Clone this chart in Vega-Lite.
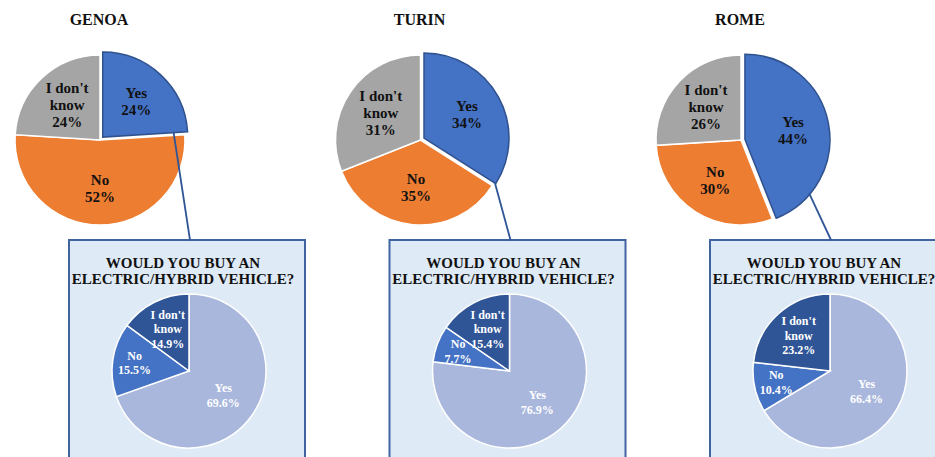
{
  "$schema": "https://vega.github.io/schema/vega-lite/v6.json",
  "width": 935,
  "height": 457,
  "autosize": {"type": "none"},
  "padding": 0,
  "background": "white",
  "config": {"view": {"stroke": null}},
  "data": {
    "values": [
      {"city": "GENOA", "question": "Q1", "answer": "Yes", "percent": 24},
      {"city": "GENOA", "question": "Q1", "answer": "No", "percent": 52},
      {"city": "GENOA", "question": "Q1", "answer": "I don't know", "percent": 24},
      {"city": "TURIN", "question": "Q1", "answer": "Yes", "percent": 34},
      {"city": "TURIN", "question": "Q1", "answer": "No", "percent": 35},
      {"city": "TURIN", "question": "Q1", "answer": "I don't know", "percent": 31},
      {"city": "ROME", "question": "Q1", "answer": "Yes", "percent": 44},
      {"city": "ROME", "question": "Q1", "answer": "No", "percent": 30},
      {"city": "ROME", "question": "Q1", "answer": "I don't know", "percent": 26},
      {"city": "GENOA", "question": "Q2", "answer": "Yes", "percent": 69.6},
      {"city": "GENOA", "question": "Q2", "answer": "No", "percent": 15.5},
      {"city": "GENOA", "question": "Q2", "answer": "I don't know", "percent": 14.9},
      {"city": "TURIN", "question": "Q2", "answer": "Yes", "percent": 76.9},
      {"city": "TURIN", "question": "Q2", "answer": "No", "percent": 7.7},
      {"city": "TURIN", "question": "Q2", "answer": "I don't know", "percent": 15.4},
      {"city": "ROME", "question": "Q2", "answer": "Yes", "percent": 66.4},
      {"city": "ROME", "question": "Q2", "answer": "No", "percent": 10.4},
      {"city": "ROME", "question": "Q2", "answer": "I don't know", "percent": 23.2}
    ]
  },
  "transform": [
    {"stack": "percent", "groupby": ["city", "question"], "sort": [{"field": "answer", "order": "descending"}], "as": ["v0", "v1"], "offset": "normalize"}
  ],
  "resolve": {"scale": {"color": "independent"}},
  "layer": [
    {
      "transform": [{"filter": "datum.question === 'Q2' && datum.answer === 'Yes'"}],
      "mark": {"type": "rect", "fill": "#DEEAF6", "stroke": "#3F64A0", "strokeWidth": 2, "xOffset": -118, "x2Offset": 118, "yOffset": -131, "y2Offset": 130},
      "encoding": {
        "x": {"field": "city", "type": "nominal", "scale": {"type": "point", "domain": ["GENOA", "TURIN", "ROME"], "range": [187, 828], "padding": 0}, "axis": null},
        "x2": {"field": "city"},
        "y": {"field": "question", "type": "nominal", "scale": {"type": "point", "domain": ["Q1", "Q2"], "range": [140, 371], "padding": 0}, "axis": null},
        "y2": {"field": "question"}
      }
    },
    {
      "transform": [{"filter": "datum.question === 'Q1'"}],
      "mark": {
        "type": "arc", "radius": 85, "strokeWidth": 1.5,
        "stroke": {"expr": "datum.answer === 'Yes' ? '#2F528F' : '#ffffff'"},
        "xOffset": {"expr": "-87 + (datum.answer === 'Yes' ? 4*sin(PI*(datum.v0+datum.v1)) : 0)"},
        "yOffset": {"expr": "datum.answer === 'Yes' ? -4*cos(PI*(datum.v0+datum.v1)) : 0"}
      },
      "encoding": {
        "x": {"field": "city", "type": "nominal", "scale": {"type": "point", "domain": ["GENOA", "TURIN", "ROME"], "range": [187, 828], "padding": 0}, "axis": null},
        "y": {"field": "question", "type": "nominal", "scale": {"type": "point", "domain": ["Q1", "Q2"], "range": [140, 371], "padding": 0}, "axis": null},
        "theta": {"field": "v0", "type": "quantitative", "stack": null, "scale": {"domain": [0, 1]}},
        "theta2": {"field": "v1"},
        "color": {"field": "answer", "type": "nominal", "scale": {"domain": ["Yes", "No", "I don't know"], "range": ["#4472C4", "#ED7D31", "#A5A5A5"]}, "legend": null}
      }
    },
    {
      "transform": [{"filter": "datum.question === 'Q1' && datum.answer === 'Yes'"}],
      "mark": {
        "type": "rule", "color": "#2F5597", "strokeWidth": 1.8,
        "xOffset": {"expr": "-87 + 4*sin(PI*datum.v1) + (datum.v1 < 0.3 ? 71 : 84)*sin(min(2*PI*datum.v1, 2.27))"},
        "yOffset": {"expr": "-4*cos(PI*datum.v1) - (datum.v1 < 0.3 ? 71 : 84)*cos(min(2*PI*datum.v1, 2.27))"},
        "x2Offset": 3, "y2Offset": -131
      },
      "encoding": {
        "x": {"field": "city", "type": "nominal", "scale": {"type": "point", "domain": ["GENOA", "TURIN", "ROME"], "range": [187, 828], "padding": 0}, "axis": null},
        "x2": {"field": "city"},
        "y": {"field": "question", "type": "nominal", "scale": {"type": "point", "domain": ["Q1", "Q2"], "range": [140, 371], "padding": 0}, "axis": null},
        "y2": {"datum": "Q2"}
      }
    },
    {
      "transform": [{"filter": "datum.question === 'Q1'"}],
      "mark": {
        "type": "text", "font": "Liberation Serif", "fontWeight": "bold", "fontSize": 15, "lineHeight": 17, "fill": "#111111", "align": "center", "baseline": "middle",
        "xOffset": -87,
        "dy": {"expr": "datum.answer === \"I don't know\" ? -17 : -8.5"},
        "radius": {"expr": "datum.answer === 'Yes' ? 53 : 48"},
        "theta": {"expr": "PI*(datum.v0+datum.v1)"},
        "text": {"expr": "datum.answer === \"I don't know\" ? [\"I don't\", 'know', format(datum.percent, '.0f') + '%'] : [datum.answer, format(datum.percent, '.0f') + '%']"}
      },
      "encoding": {
        "x": {"field": "city", "type": "nominal", "scale": {"type": "point", "domain": ["GENOA", "TURIN", "ROME"], "range": [187, 828], "padding": 0}, "axis": null},
        "y": {"field": "question", "type": "nominal", "scale": {"type": "point", "domain": ["Q1", "Q2"], "range": [140, 371], "padding": 0}, "axis": null}
      }
    },
    {
      "transform": [{"filter": "datum.question === 'Q1' && datum.answer === 'Yes'"}],
      "mark": {"type": "text", "font": "Liberation Serif", "fontWeight": "bold", "fontSize": 16, "fill": "#111111", "align": "center", "baseline": "middle", "xOffset": -88, "yOffset": -120},
      "encoding": {
        "x": {"field": "city", "type": "nominal", "scale": {"type": "point", "domain": ["GENOA", "TURIN", "ROME"], "range": [187, 828], "padding": 0}, "axis": null},
        "y": {"field": "question", "type": "nominal", "scale": {"type": "point", "domain": ["Q1", "Q2"], "range": [140, 371], "padding": 0}, "axis": null},
        "text": {"field": "city"}
      }
    },
    {
      "transform": [{"filter": "datum.question === 'Q2'"}],
      "mark": {"type": "arc", "radius": 77, "stroke": "#ffffff", "strokeWidth": 1.5, "xOffset": 2},
      "encoding": {
        "x": {"field": "city", "type": "nominal", "scale": {"type": "point", "domain": ["GENOA", "TURIN", "ROME"], "range": [187, 828], "padding": 0}, "axis": null},
        "y": {"field": "question", "type": "nominal", "scale": {"type": "point", "domain": ["Q1", "Q2"], "range": [140, 371], "padding": 0}, "axis": null},
        "theta": {"field": "v0", "type": "quantitative", "stack": null, "scale": {"domain": [0, 1]}},
        "theta2": {"field": "v1"},
        "color": {"field": "answer", "type": "nominal", "scale": {"domain": ["Yes", "No", "I don't know"], "range": ["#A9B7DD", "#4472C4", "#2F5597"]}, "legend": null}
      }
    },
    {
      "transform": [{"filter": "datum.question === 'Q2'"}],
      "mark": {
        "type": "text", "font": "Liberation Serif", "fontWeight": "bold", "fontSize": 12, "lineHeight": 14.5, "fill": "#ffffff", "align": "center", "baseline": "middle",
        "xOffset": 2,
        "dy": {"expr": "datum.answer === \"I don't know\" ? -14.5 : -7.25"},
        "radius": {"expr": "datum.answer === 'Yes' ? 42 : datum.answer === 'No' ? 55 : 47"},
        "theta": {"expr": "PI*(datum.v0+datum.v1)"},
        "text": {"expr": "datum.answer === \"I don't know\" ? [\"I don't\", 'know', format(datum.percent, '.1f') + '%'] : [datum.answer, format(datum.percent, '.1f') + '%']"}
      },
      "encoding": {
        "x": {"field": "city", "type": "nominal", "scale": {"type": "point", "domain": ["GENOA", "TURIN", "ROME"], "range": [187, 828], "padding": 0}, "axis": null},
        "y": {"field": "question", "type": "nominal", "scale": {"type": "point", "domain": ["Q1", "Q2"], "range": [140, 371], "padding": 0}, "axis": null}
      }
    },
    {
      "transform": [{"filter": "datum.question === 'Q2' && datum.answer === 'Yes'"}],
      "mark": {"type": "text", "font": "Liberation Serif", "fontWeight": "bold", "fontSize": 15, "lineHeight": 16, "fill": "#111111", "align": "center", "baseline": "middle", "xOffset": -4, "yOffset": -108, "text": ["WOULD YOU BUY AN", "ELECTRIC/HYBRID VEHICLE?"]},
      "encoding": {
        "x": {"field": "city", "type": "nominal", "scale": {"type": "point", "domain": ["GENOA", "TURIN", "ROME"], "range": [187, 828], "padding": 0}, "axis": null},
        "y": {"field": "question", "type": "nominal", "scale": {"type": "point", "domain": ["Q1", "Q2"], "range": [140, 371], "padding": 0}, "axis": null}
      }
    }
  ]
}
